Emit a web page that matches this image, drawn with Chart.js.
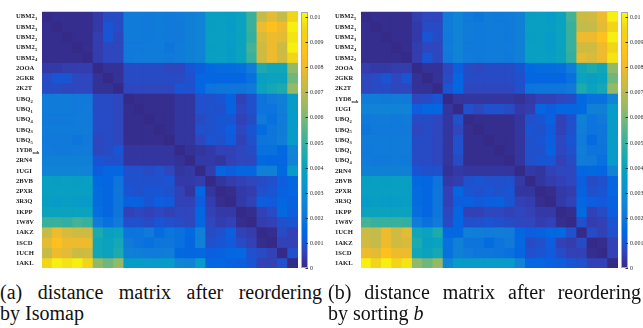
<!DOCTYPE html>
<html><head><meta charset="utf-8">
<script src="https://cdn.jsdelivr.net/npm/chart.js@4.4.1/dist/chart.umd.min.js"></script>
<style>
html,body{margin:0;padding:0;background:#fff;}
body{width:643px;height:328px;position:relative;overflow:hidden;}
canvas{position:absolute;top:0;}
.cap{position:absolute;font-family:"Liberation Serif","Times New Roman",serif;font-size:20px;line-height:21px;color:#111;white-space:nowrap;}
.j{text-align:justify;text-align-last:justify;white-space:normal;}
</style></head><body>
<canvas id="hA" width="298" height="270" style="left:0px"></canvas>
<canvas id="cA" width="40" height="275" style="left:296px"></canvas>
<canvas id="hB" width="298" height="270" style="left:320px"></canvas>
<canvas id="cB" width="40" height="275" style="left:615px"></canvas>
<div class="cap j" style="left:0px;top:282px;width:322px">(a) distance matrix after reordering</div>
<div class="cap" style="left:0px;top:303px">by Isomap</div>
<div class="cap j" style="left:328px;top:282px;width:313px">(b) distance matrix after reordering</div>
<div class="cap" style="left:328px;top:303px">by sorting <i>b</i></div>
<script>
// ---- data ----
// order of panel (b), "sorted by b"
const labelsB = ['UBM2_5','UBM2_1','UBM2_3','UBM2_4','UBM2_2','2OOA','2GKR','2K2T','1YD8_sub','1UGI',
  'UBQ_2','UBQ_5','UBQ_3','UBQ_1','UBQ_4','2RN4','2BVB','2PXR','3R3Q','1KPP','1W8V','1UCH','1AKZ','1SCD','1AKL'];
// order of panel (a), Isomap
const labelsA = ['UBM2_1','UBM2_3','UBM2_2','UBM2_5','UBM2_4','2OOA','2GKR','2K2T','UBQ_2','UBQ_1',
  'UBQ_4','UBQ_3','UBQ_5','1YD8_sub','2RN4','1UGI','2BVB','2PXR','3R3Q','1KPP','1W8V','1AKZ','1SCD','1UCH','1AKL'];
// distance matrix, rows/cols in labelsB order, in units of 1e-4
const UNIT = 1e-4;
const distB = [
 [0,1,1,1,1, 5,7,7, 22,25, 21,20,22,21,22, 24, 37,38,36,40, 52, 73,74,80,100],
 [1,0,1,1,1, 4,8,8, 22,25, 22,21,22,22,21, 24, 38,38,37,40, 50, 72,72,78,95],
 [1,1,0,1,1, 4,10,8, 21,25, 22,21,22,22,21, 24, 37,38,36,40, 50, 80,80,85,100],
 [1,1,1,0,1, 5,7,7, 22,25, 21,21,22,22,22, 24, 38,38,36,40, 50, 74,74,80,95],
 [1,1,1,1,0, 5,10,7, 21,25, 22,21,22,22,21, 24, 38,38,37,40, 49, 78,76,80,98],
 [5,4,4,5,5, 0,2,2, 7,12, 8,7,8,8,8, 10, 15,16,16,17, 22, 42,45,42,63],
 [7,8,10,7,10, 2,0,2, 8,14, 8,8,8,8,8, 9, 14,14,14,14, 18, 40,38,40,58],
 [7,8,8,7,7, 2,2,0, 10,14, 7,7,7,7,7, 9, 19,20,20,20, 21, 45,40,43,64],
 [22,22,21,22,21, 7,8,10, 0,3, 3,3,3,3,3, 2, 4,6,6,7, 8, 15,18,18,26],
 [25,25,25,25,25, 12,14,14, 3,0, 9,7,9,9,8, 4, 5,14,12,14, 14, 15,24,24,35],
 [21,22,22,21,22, 8,8,7, 3,9, 0,1,1,1,1, 3, 9,10,13,6, 9, 24,19,21,36],
 [20,21,21,21,21, 7,8,7, 3,7, 1,0,1,1,1, 3, 10,9,11,6, 9, 23,19,20,36],
 [22,22,22,22,22, 8,8,7, 3,9, 1,1,0,1,1, 3, 9,10,12,7, 10, 22,16,20,36],
 [21,22,22,22,22, 8,8,7, 3,9, 1,1,1,0,1, 3, 9,9,13,7, 9, 23,19,19,36],
 [22,21,21,22,21, 8,8,7, 3,8, 1,1,1,1,0, 3, 9,10,10,6, 8, 22,21,18,35],
 [24,24,24,24,24, 10,9,9, 2,4, 3,3,3,3,3, 0, 4,3,6,7, 7, 14,15,14,25],
 [37,38,37,38,38, 15,14,19, 4,5, 9,10,9,9,9, 4, 0,3,5,6, 7, 12,8,9,14],
 [38,38,38,38,38, 16,14,20, 6,14, 10,9,10,9,10, 3, 3,0,1,4, 5, 13,9,10,14],
 [36,37,36,36,37, 16,14,20, 6,12, 13,11,12,13,10, 6, 5,1,0,4, 6, 14,12,11,13],
 [40,40,40,40,40, 17,14,20, 7,14, 6,6,7,7,6, 7, 6,4,4,0, 1, 15,6,8,12],
 [52,50,50,50,49, 22,18,21, 8,14, 9,9,10,9,8, 7, 7,5,6,1, 0, 9,5,6,10],
 [73,72,80,74,78, 42,40,45, 15,15, 24,23,22,23,22, 14, 12,13,14,15, 9, 0,8,6,9],
 [74,72,80,74,76, 45,38,40, 18,24, 19,19,16,19,21, 15, 8,9,12,6, 5, 8,0,1,6],
 [80,78,85,80,80, 42,40,43, 18,24, 21,20,20,19,18, 14, 9,10,11,8, 6, 6,1,0,6],
 [100,95,100,95,98, 63,58,64, 26,35, 36,36,36,36,35, 25, 14,14,13,12, 10, 9,6,6,0]
];
const tickValues = [0,0.001,0.002,0.003,0.004,0.005,0.006,0.007,0.008,0.009,0.01];
const tickLabels = ['0','0.001','0.002','0.003','0.004','0.005','0.006','0.007','0.008','0.009','0.01'];
const CMAX = 0.0102;

// ---- parula colormap ----
const PAR = [
 [0,53,42,135],[0.0635,50,67,186],[0.111,15,92,221],[0.143,2,104,225],[0.206,16,121,218],
 [0.270,16,137,211],[0.333,6,153,203],[0.397,10,163,189],[0.460,37,173,168],[0.524,77,180,143],
 [0.587,124,184,118],[0.651,165,186,93],[0.714,201,187,70],[0.778,234,187,47],[0.825,253,190,29],
 [0.873,251,200,24],[0.937,241,214,22],[1,249,251,14]];
function parula(t){
  t = Math.max(0, Math.min(1, t));
  for (let k = 1; k < PAR.length; k++) {
    if (t <= PAR[k][0]) {
      const a = PAR[k-1], b = PAR[k], f = (t - a[0]) / (b[0] - a[0]);
      const c = [1,2,3].map(i => Math.round(a[i] + (b[i]-a[i]) * f));
      return `rgb(${c[0]},${c[1]},${c[2]})`;
    }
  }
  return 'rgb(249,251,14)';
}

const SERIF = '"Liberation Serif","Times New Roman",serif';
const rowLabelPlugin = {
  id: 'rowLabels',
  afterDraw(chart, args, opts) {
    const {ctx} = chart; const y = chart.scales.y; const ca = chart.chartArea;
    ctx.save();
    ctx.fillStyle = '#1c1c1c';
    ctx.textBaseline = 'alphabetic';
    ctx.textAlign = 'left';
    opts.labels.forEach((name, i) => {
      const parts = name.split('_');
      const py = y.getPixelForValue(i + 0.5);
      ctx.font = 'bold 6.6px ' + SERIF;
      ctx.fillText(parts[0], opts.x, py + 2.3);
      if (parts[1]) {
        const w = ctx.measureText(parts[0]).width;
        ctx.font = 'bold 4.6px ' + SERIF;
        ctx.fillText(parts[1], opts.x + w + 0.3, py + 4.2);
      }
    });
    ctx.strokeStyle = '#cfcfcf'; ctx.lineWidth = 1;
    ctx.beginPath(); ctx.moveTo(ca.left, ca.top + 0.5); ctx.lineTo(ca.right, ca.top + 0.5); ctx.stroke();
    ctx.restore();
  }
};

function heatmap(id, names, padLeft, labelX) {
  const perm = names.map(n => labelsB.indexOf(n));
  const datasets = names.map((rn, i) => ({
    data: names.map(() => [i, i + 1]),
    backgroundColor: names.map((cn, j) => parula(distB[perm[i]][perm[j]] * UNIT / CMAX)),
    borderWidth: 0, grouped: false, barPercentage: 1, categoryPercentage: 1, inflateAmount: 0.5
  }));
  new Chart(document.getElementById(id), {
    type: 'bar',
    data: { labels: names, datasets },
    options: {
      responsive: false, animation: false, events: [],
      layout: { padding: { left: padLeft, top: 11, right: 0, bottom: 2 } },
      scales: {
        x: { display: false },
        y: { type: 'linear', min: 0, max: names.length, reverse: true, display: false }
      },
      plugins: { legend: { display: false }, tooltip: { enabled: false },
        rowLabels: { labels: names, x: labelX } }
    },
    plugins: [rowLabelPlugin]
  });
}

const cbarPlugin = {
  id: 'cbar',
  afterDatasetsDraw(chart) {
    const {ctx, chartArea: ca} = chart; const y = chart.scales.y;
    ctx.save();
    ctx.strokeStyle = '#a9a9a9'; ctx.lineWidth = 1;
    ctx.strokeRect(ca.left + 0.5, ca.top + 0.5, ca.width - 1, ca.height - 1);
    ctx.strokeStyle = '#333'; ctx.fillStyle = '#2a2a2a';
    ctx.font = '6px ' + SERIF; ctx.textBaseline = 'middle'; ctx.textAlign = 'left';
    tickValues.forEach((v, k) => {
      const py = Math.round(y.getPixelForValue(v)) + 0.5;
      ctx.beginPath(); ctx.moveTo(ca.right - 2.5, py); ctx.lineTo(ca.right, py); ctx.stroke();
      ctx.fillText(tickLabels[k], ca.right + 2, py);
    });
    ctx.restore();
  }
};

function colorbar(id, padLeft) {
  new Chart(document.getElementById(id), {
    type: 'bar',
    data: { labels: [''], datasets: [{
      data: [[0, CMAX]], borderWidth: 0, barPercentage: 1, categoryPercentage: 1,
      backgroundColor: (c) => {
        const ca = c.chart.chartArea; if (!ca) return null;
        const g = c.chart.ctx.createLinearGradient(0, ca.bottom, 0, ca.top);
        PAR.forEach(p => g.addColorStop(p[0], `rgb(${p[1]},${p[2]},${p[3]})`));
        return g;
      }
    }]},
    options: {
      responsive: false, animation: false, events: [],
      layout: { padding: { left: padLeft, right: 40 - padLeft - 7, top: 12, bottom: 7 } },
      scales: { x: { display: false }, y: { type: 'linear', min: 0, max: CMAX, display: false } },
      plugins: { legend: { display: false }, tooltip: { enabled: false } }
    },
    plugins: [cbarPlugin]
  });
}

heatmap('hA', labelsA, 42, 16);
heatmap('hB', labelsB, 41, 15);
colorbar('cA', 5);
colorbar('cB', 6);
</script>
</body></html>
